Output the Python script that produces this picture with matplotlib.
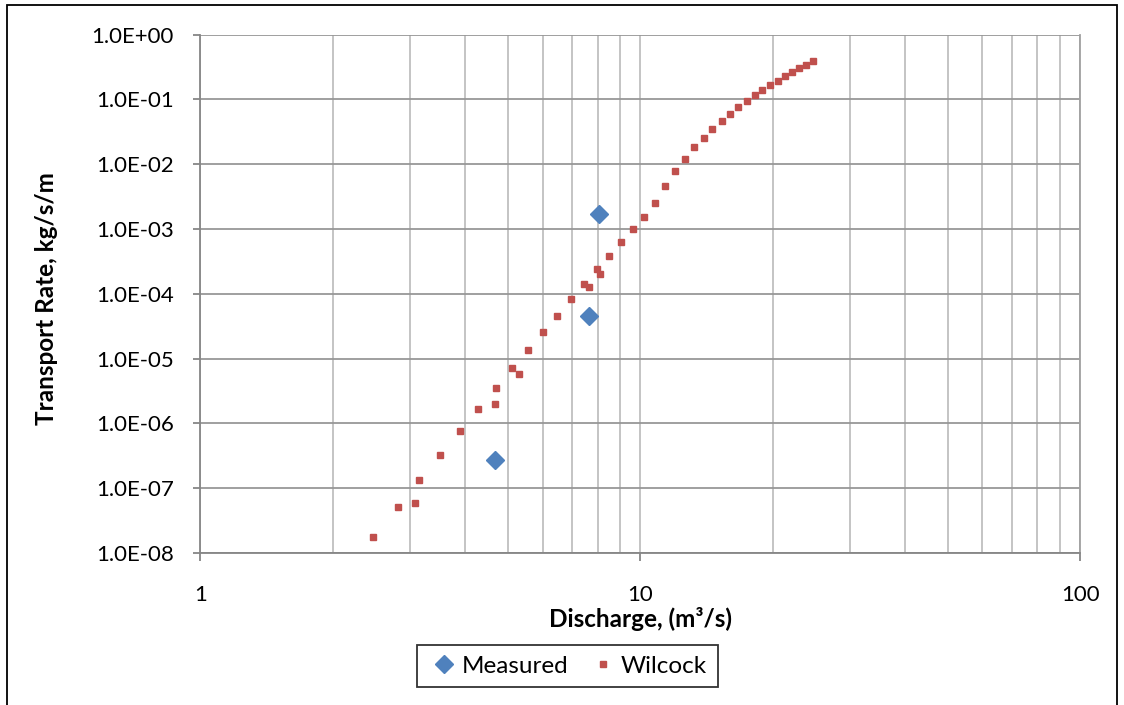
import numpy as np
import matplotlib
matplotlib.use('Agg')
import matplotlib.pyplot as plt
from matplotlib.ticker import LogLocator, FixedLocator, NullFormatter, FuncFormatter
from matplotlib.patches import Rectangle

plt.rcParams['font.family'] = ['Lato', 'DejaVu Sans']

# discharge (m3/s) and transport rate (kg/s/m)
measured_q = [4.68, 7.66, 8.07]
measured_rate = [2.68e-7, 4.56e-5, 1.73e-3]

wilcock_q = [2.47, 2.81, 3.08, 3.15, 3.51, 3.89, 4.28, 4.68, 4.69, 5.11, 5.30,
             5.55, 6.01, 6.47, 6.96, 7.46, 7.65, 7.97, 8.09, 8.50, 9.05, 9.61,
             10.18, 10.78, 11.38, 11.99, 12.62, 13.27, 13.94, 14.60, 15.31,
             15.99, 16.73, 17.45, 18.20, 18.97, 19.75, 20.53, 21.33, 22.16,
             22.98, 23.84, 24.73]
wilcock_rate = [1.78e-8, 5.05e-8, 5.82e-8, 1.34e-7, 3.28e-7, 7.61e-7, 1.66e-6,
                2.01e-6, 3.50e-6, 7.03e-6, 5.75e-6, 1.36e-5, 2.56e-5, 4.61e-5,
                8.26e-5, 1.42e-4, 1.25e-4, 2.39e-4, 2.01e-4, 3.88e-4, 6.31e-4,
                1.00e-3, 1.55e-3, 2.55e-3, 4.66e-3, 7.85e-3, 1.22e-2, 1.82e-2,
                2.56e-2, 3.53e-2, 4.69e-2, 6.01e-2, 7.62e-2, 9.43e-2, 0.1155,
                0.1393, 0.1665, 0.194, 0.2266, 0.2613, 0.3012, 0.3386, 0.3861]

x_ticks = [1, 10, 100]
y_ticks = [10.0 ** k for k in range(-8, 1)]

fig = plt.figure(figsize=(11.24, 7.05), dpi=100)
# chart area border
fig.patches.append(Rectangle((7 / 1124, -0.05), (1117 - 7) / 1124, 1.05 - 5 / 705,
                             transform=fig.transFigure, fill=False,
                             edgecolor='black', linewidth=1.3, zorder=0))

ax = fig.add_axes([0.1782, 0.2156, 0.9609 - 0.1782, 0.951 - 0.2156])
ax.set_xscale('log')
ax.set_yscale('log')
ax.set_xlim(1, 100)
ax.set_ylim(1e-8, 1)

ax.xaxis.set_major_locator(FixedLocator(x_ticks))
ax.xaxis.set_minor_locator(LogLocator(base=10, subs=np.arange(2, 10)))
ax.xaxis.set_minor_formatter(NullFormatter())
ax.xaxis.set_major_formatter(FuncFormatter(lambda v, p: f'{v:g}'))
ax.yaxis.set_major_locator(FixedLocator(y_ticks))
ax.yaxis.set_minor_locator(FixedLocator([]))
ax.yaxis.set_major_formatter(FuncFormatter(
    lambda v, p: f'{1.0:.1f}E{int(round(np.log10(v))):+03d}'))

ax.grid(True, which='major', axis='y', color='#979797', linewidth=1.3)
ax.grid(True, which='both', axis='x', color='#BFBFBF', linewidth=1.3)
ax.set_axisbelow(True)

ax.spines['top'].set_visible(False)
ax.spines['right'].set_color('#A0A0A0')
ax.spines['right'].set_linewidth(1.3)
for side in ['left', 'bottom']:
    ax.spines[side].set_color('#868686')
    ax.spines[side].set_linewidth(1.3)

ax.tick_params(axis='y', which='major', labelsize=16, length=5, width=1.3,
               color='#868686', pad=14)
ax.tick_params(axis='x', which='major', labelsize=16, length=6, width=1.3,
               color='#868686', pad=17)
ax.tick_params(axis='x', which='minor', length=0)

ax.plot(measured_q, measured_rate, linestyle='none', marker='D', markersize=9.5,
        color='#4F81BD', label='Measured', zorder=3)
ax.plot(wilcock_q, wilcock_rate, linestyle='none', marker='s', markersize=5,
        color='#C0504D', label='Wilcock', zorder=3)

ax.set_xlabel('Discharge, (m³/s)', fontsize=17.5, fontweight='bold')
ax.set_ylabel('Transport Rate, kg/s/m', fontsize=17.5, fontweight='bold')
ax.xaxis.set_label_coords(0.5, (553 - 607) / 518.5)
ax.yaxis.set_label_coords((58 - 200.3) / 879.7, 0.49)

leg = fig.legend(loc='center', bbox_to_anchor=(567.5 / 1124, 1 - 666 / 705), ncol=2,
                 fontsize=17.5, frameon=True, fancybox=False, edgecolor='black',
                 handlelength=1.3, handletextpad=0.1, columnspacing=0.75,
                 borderpad=0.45)
leg.get_frame().set_linewidth(1.3)

fig.savefig('out.png', dpi=100)
